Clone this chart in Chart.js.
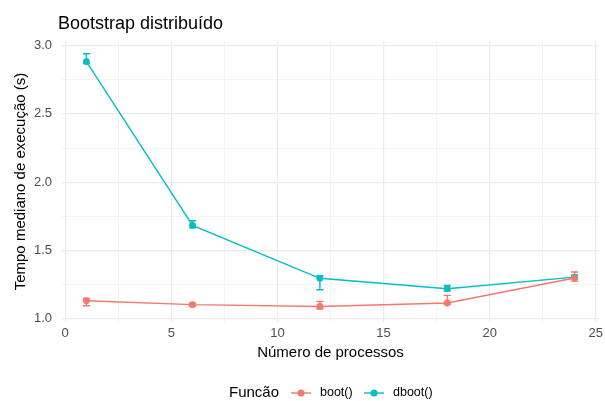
<!DOCTYPE html>
<html>
<head>
<meta charset="utf-8">
<script src="https://cdn.jsdelivr.net/npm/chart.js@4/dist/chart.umd.min.js"></script>
<style>
  html, body { margin: 0; padding: 0; background: #fff; }
  #wrap { width: 605px; height: 401px; position: relative; }
</style>
</head>
<body>
<div id="wrap"><canvas id="chart"></canvas></div>
<script>
// data
const processes = [1, 6, 12, 18, 24];
const bootMedian = [1.132, 1.103, 1.090, 1.115, 1.298];
const bootLow = [1.095, 1.093, 1.073, 1.106, 1.275];
const bootHigh = [1.149, 1.113, 1.127, 1.171, 1.342];
const dbootMedian = [2.883, 1.684, 1.296, 1.220, 1.305];
const dbootLow = [2.868, 1.665, 1.212, 1.205, 1.292];
const dbootHigh = [2.941, 1.718, 1.315, 1.244, 1.318];
const xTicks = [0, 2.5, 5, 7.5, 10, 12.5, 15, 17.5, 20, 22.5, 25];
const yTicks = [1.0, 1.25, 1.5, 1.75, 2.0, 2.25, 2.5, 2.75, 3.0];

const RED = "#F8766D";
const TEAL = "#00BFC4";
const FONT = "'Liberation Sans', Arial, sans-serif";

function toPoints(ys) {
    return processes.map((x, i) => ({ x: x, y: ys[i] }));
}

// error bars, title, axis titles and legend
const decor = {
    id: "decor",
    beforeDatasetsDraw(chart) {
        const ctx = chart.ctx;
        const xs = chart.scales.x, ys = chart.scales.y;
        const bars = [[bootLow, bootHigh, RED], [dbootLow, dbootHigh, TEAL]];
        ctx.save();
        ctx.lineWidth = 1.4;
        bars.forEach(([lo, hi, color]) => {
            ctx.strokeStyle = color;
            processes.forEach((p, i) => {
                const px = xs.getPixelForValue(p);
                const y1 = ys.getPixelForValue(lo[i]);
                const y2 = ys.getPixelForValue(hi[i]);
                ctx.beginPath();
                ctx.moveTo(px, y1); ctx.lineTo(px, y2);
                ctx.moveTo(px - 3.6, y1); ctx.lineTo(px + 3.6, y1);
                ctx.moveTo(px - 3.6, y2); ctx.lineTo(px + 3.6, y2);
                ctx.stroke();
            });
        });
        ctx.restore();
    },
    afterDraw(chart) {
        const ctx = chart.ctx;
        const area = chart.chartArea;
        ctx.save();
        ctx.fillStyle = "#000";
        ctx.textBaseline = "alphabetic";
        ctx.textAlign = "left";
        ctx.font = "18px " + FONT;
        ctx.fillText("Bootstrap distribuído", 58, 29);

        ctx.font = "15px " + FONT;
        ctx.textAlign = "center";
        ctx.fillText("Número de processos", (area.left + area.right) / 2, 357);

        ctx.save();
        ctx.translate(25, (area.top + area.bottom) / 2);
        ctx.rotate(-Math.PI / 2);
        ctx.fillText("Tempo mediano de execução (s)", 0, 0);
        ctx.restore();

        // legend
        const ly = 393;
        ctx.textAlign = "left";
        ctx.textBaseline = "middle";
        ctx.font = "15px " + FONT;
        ctx.fillText("Funcão", 229, ly);
        const items = [["boot()", RED, 291], ["dboot()", TEAL, 364]];
        items.forEach(([label, color, x0]) => {
            ctx.strokeStyle = color;
            ctx.fillStyle = color;
            ctx.lineWidth = 1.4;
            ctx.beginPath();
            ctx.moveTo(x0, ly); ctx.lineTo(x0 + 20, ly);
            ctx.stroke();
            ctx.beginPath();
            ctx.arc(x0 + 10, ly, 3.5, 0, Math.PI * 2);
            ctx.fill();
            ctx.fillStyle = "#000";
            ctx.font = "12.5px " + FONT;
            ctx.fillText(label, x0 + 29, ly);
        });
        ctx.restore();
    }
};

const isMajor = (v, step) => Math.abs(v / step - Math.round(v / step)) < 1e-6;

new Chart(document.getElementById("chart"), {
    type: "scatter",
    data: {
        datasets: [
            {
                label: "boot()",
                data: toPoints(bootMedian),
                showLine: true,
                borderColor: RED,
                backgroundColor: RED,
                borderWidth: 1.4,
                pointRadius: 3.4,
                pointHoverRadius: 3.4,
                pointBorderWidth: 0
            },
            {
                label: "dboot()",
                data: toPoints(dbootMedian),
                showLine: true,
                borderColor: TEAL,
                backgroundColor: TEAL,
                borderWidth: 1.4,
                pointRadius: 3.4,
                pointHoverRadius: 3.4,
                pointBorderWidth: 0
            }
        ]
    },
    options: {
        responsive: true,
        maintainAspectRatio: false,
        animation: false,
        events: [],
        layout: { padding: { top: 41, right: 6, left: 0, bottom: 0 } },
        plugins: {
            legend: { display: false },
            title: { display: false },
            tooltip: { enabled: false }
        },
        scales: {
            x: {
                type: "linear",
                min: -0.15,
                max: 25.15,
                afterBuildTicks: (scale) => { scale.ticks = xTicks.map(v => ({ value: v })); },
                afterFit: (scale) => { scale.height = 79; scale.paddingLeft = 0; scale.paddingRight = 0; },
                border: { display: false },
                grid: {
                    drawTicks: false,
                    color: "#ebebeb",
                    lineWidth: (c) => isMajor(c.tick.value, 5) ? 1.2 : 0.6
                },
                ticks: {
                    padding: 4,
                    color: "#4d4d4d",
                    font: { family: FONT, size: 13 },
                    callback: (v) => isMajor(v, 5) ? String(v) : ""
                }
            },
            y: {
                type: "linear",
                min: 0.976,
                max: 3.034,
                afterBuildTicks: (scale) => { scale.ticks = yTicks.map(v => ({ value: v })); },
                afterFit: (scale) => { scale.width = 62; scale.paddingTop = 0; scale.paddingBottom = 0; },
                border: { display: false },
                grid: {
                    drawTicks: false,
                    color: "#ebebeb",
                    lineWidth: (c) => isMajor(c.tick.value, 0.5) ? 1.2 : 0.6
                },
                ticks: {
                    padding: 10,
                    color: "#4d4d4d",
                    font: { family: FONT, size: 13 },
                    callback: (v) => isMajor(v, 0.5) ? v.toFixed(1) : ""
                }
            }
        }
    },
    plugins: [decor]
});
</script>
</body>
</html>
